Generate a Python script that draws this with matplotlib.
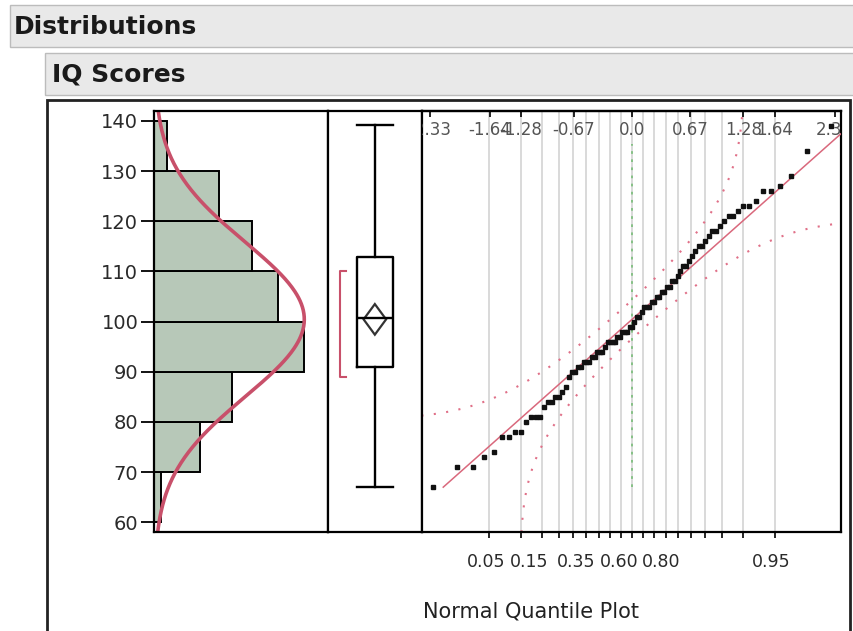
import numpy as np
import matplotlib
matplotlib.use("Agg")
import matplotlib.pyplot as plt
from matplotlib.patches import Rectangle, Polygon
from matplotlib.transforms import blended_transform_factory
from statistics import NormalDist

# histogram bins (IQ score) and counts
bin_edges = [60, 70, 80, 90, 100, 110, 120, 130, 140]
hist_counts = [1, 7, 12, 23, 19, 15, 10, 2]

# sorted scores
scores = [67, 71, 71, 73, 74, 77, 77, 78, 78, 80,
          81, 81, 81, 83, 84, 84, 85, 85, 86, 87,
          89, 90, 90, 91, 91, 92, 92, 92, 93, 93,
          94, 94, 94, 95, 96, 96, 96, 96, 97,
          97, 98, 98, 98, 99, 99, 100, 101, 101, 102,
          103, 103, 103, 104, 104, 105, 105, 106, 106, 107,
          107, 108, 108, 109, 110, 111, 111, 112, 113, 114,
          115, 115, 116, 117, 118, 118, 119, 120, 121, 121,
          122, 123, 123, 124, 126, 126, 127, 129, 134, 139]

# fitted normal
fit_mean = 100.45
fit_sd = 15.4

# outlier box plot summary
q1, median, q3 = 90.9, 100.7, 112.8
whisker_lo, whisker_hi = 67.0, 139.2
mean_ci = [97.4, 103.5]
shortest_half = [88.9, 110.0]

# quantile plot axis labels
top_z = [-2.33, -1.64, -1.28, -0.67, 0.0, 0.67, 1.28, 1.64, 2.33]
top_labels = ["-2.33", "-1.64", "-1.28", "-0.67", "0.0", "0.67", "1.28", "1.64", "2.33"]
grid_p = [0.05, 0.10, 0.15, 0.20, 0.25, 0.30, 0.35, 0.40, 0.45, 0.50,
          0.55, 0.60, 0.65, 0.70, 0.75, 0.80, 0.85, 0.90, 0.95]
bottom_labels = ["0.05", "0.15", "0.35", "0.60", "0.80", "0.95"]
bottom_label_z = [-1.68, -1.185, -0.644, -0.15, 0.334, 1.60]
band_d = 0.0987  # Lilliefors band half-width in probability

RED = "#c8506a"
W, H = 854, 631
nd = NormalDist()

fig = plt.figure(figsize=(W / 100, H / 100), dpi=100)
fig.patch.set_facecolor("white")


def px_axes(x0, y0, x1, y1, **kw):
    return fig.add_axes([x0 / W, 1 - y1 / H, (x1 - x0) / W, (y1 - y0) / H], **kw)


# background layer in pixel units: title bars and outline frame
bg = px_axes(0, 0, W, H)
bg.set_xlim(0, W)
bg.set_ylim(H, 0)
bg.axis("off")
bg.add_patch(Rectangle((10, 5), 850, 41.5, facecolor="#e9e9e9", edgecolor="#bcbcbc", lw=1))
bg.add_patch(Rectangle((45, 53), 815, 42, facecolor="#e9e9e9", edgecolor="#bcbcbc", lw=1))
bg.add_patch(Rectangle((46.7, 100.4), 803.3, 560, facecolor="white", edgecolor="#222222", lw=2))
bg.text(14, 26.5, "Distributions", fontsize=18, fontweight="bold", color="#1a1a1a", va="center")
bg.text(52, 74.5, "IQ Scores", fontsize=18, fontweight="bold", color="#1a1a1a", va="center")
bg.text(423, 611, "Normal Quantile Plot", fontsize=15, color="#222222", va="center")

ylim = (58.0, 142.05)

# histogram
ax1 = px_axes(154.3, 110.7, 328, 532.3)
ax1.barh(bin_edges[:-1], hist_counts, height=10, align="edge",
         color="#b7c8b8", edgecolor="black", lw=1.4)
yy = np.linspace(ylim[0], ylim[1], 400)
dens = [sum(hist_counts) * 10 * NormalDist(fit_mean, fit_sd).pdf(v) for v in yy]
ax1.plot(dens, yy, color=RED, lw=2.6)
ax1.set_xlim(0, 26.7)
ax1.set_ylim(ylim)
ax1.set_xticks([])
ax1.set_yticks(range(60, 141, 10))
ax1.tick_params(axis="y", length=9.5, width=1.3, labelsize=14, pad=2, labelcolor="#2a2a2a")

# outlier box plot
ax2 = px_axes(328, 110.7, 421.7, 532.3)
stats = [{"med": median, "q1": q1, "q3": q3, "whislo": whisker_lo, "whishi": whisker_hi, "fliers": []}]
ax2.bxp(stats, positions=[0.5], widths=0.39, capwidths=0.39, showfliers=False,
        boxprops=dict(color="black", lw=1.7), whiskerprops=dict(color="black", lw=1.7),
        capprops=dict(color="black", lw=1.7), medianprops=dict(color="black", lw=1.7))
mid = (mean_ci[0] + mean_ci[1]) / 2
ax2.add_patch(Polygon([(0.5, mean_ci[1]), (0.62, mid), (0.5, mean_ci[0]), (0.38, mid)],
                      closed=True, fill=False, edgecolor="#333333", lw=1.6))
ax2.plot([0.19, 0.128, 0.128, 0.19], [shortest_half[1], shortest_half[1], shortest_half[0], shortest_half[0]],
         color=RED, lw=1.5)
ax2.set_xlim(0, 1)
ax2.set_ylim(ylim)
ax2.set_xticks([])
ax2.set_yticks([])

# normal quantile plot
ax3 = px_axes(421.7, 110.7, 840.7, 532.3)
ax3.set_xlim(-2.42, 2.40)
ax3.set_ylim(ylim)
grid_z = [nd.inv_cdf(p) for p in grid_p]
for gz in grid_z:
    ax3.axvline(gz, color="#cfcfcf", lw=1.1, zorder=0)
ax3.plot([0, 0], [min(scores), 135.5], color="#7fbf7f", lw=1.3, ls=(0, (1.5, 3)), zorder=1)

yb = np.linspace(ylim[0], ylim[1], 3000)
p0 = np.array([NormalDist(fit_mean, fit_sd).cdf(v) for v in yb])
lo_ok = p0 - band_d > 1e-7
hi_ok = p0 + band_d < 1 - 1e-7
x_lo = [nd.inv_cdf(p) for p in (p0[lo_ok] - band_d)]
x_hi = [nd.inv_cdf(p) for p in (p0[hi_ok] + band_d)]
ax3.plot(x_lo, yb[lo_ok], color="#e07088", lw=1.5, ls=(0, (1, 5)), zorder=2)
ax3.plot(x_hi, yb[hi_ok], color="#e07088", lw=1.5, ls=(0, (1, 5)), zorder=2)

n = len(scores)
qz = [nd.inv_cdf(i / (n + 1)) for i in range(1, n + 1)]
zfit = [(min(scores) - fit_mean) / fit_sd, (max(scores) - fit_mean) / fit_sd]
ax3.plot(zfit, [fit_mean + fit_sd * z for z in zfit], color="#d9687c", lw=1.1, zorder=3)
ax3.plot(qz, scores, ls="none", marker="s", ms=3.0, color="#111111", zorder=4)

ax3.set_yticks([])
ax3.set_xticks(grid_z, labels=[])
ax3.tick_params(axis="x", length=4.5, width=1.2, direction="out")
top = ax3.secondary_xaxis("top")
top.set_xticks(top_z, labels=[])
top.tick_params(axis="x", length=4, width=1.2, direction="in")
tr = blended_transform_factory(ax3.transData, ax3.transAxes)
for z, lab in zip(top_z, top_labels):
    ax3.text(z, 0.954, lab, transform=tr, ha="center", va="center", fontsize=12,
             color="#555555", clip_on=True, zorder=5)
trb = blended_transform_factory(ax3.transData, fig.transFigure)
for z, lab in zip(bottom_label_z, bottom_labels):
    ax3.text(z, 1 - 562 / H, lab, transform=trb, ha="center", va="center", fontsize=12.5,
             color="#2a2a2a", clip_on=False)

for a in (ax1, ax2, ax3):
    for s in a.spines.values():
        s.set_linewidth(1.6)
        s.set_color("black")
top.spines["top"].set_linewidth(1.6)

fig.savefig("out.png", dpi=100)
